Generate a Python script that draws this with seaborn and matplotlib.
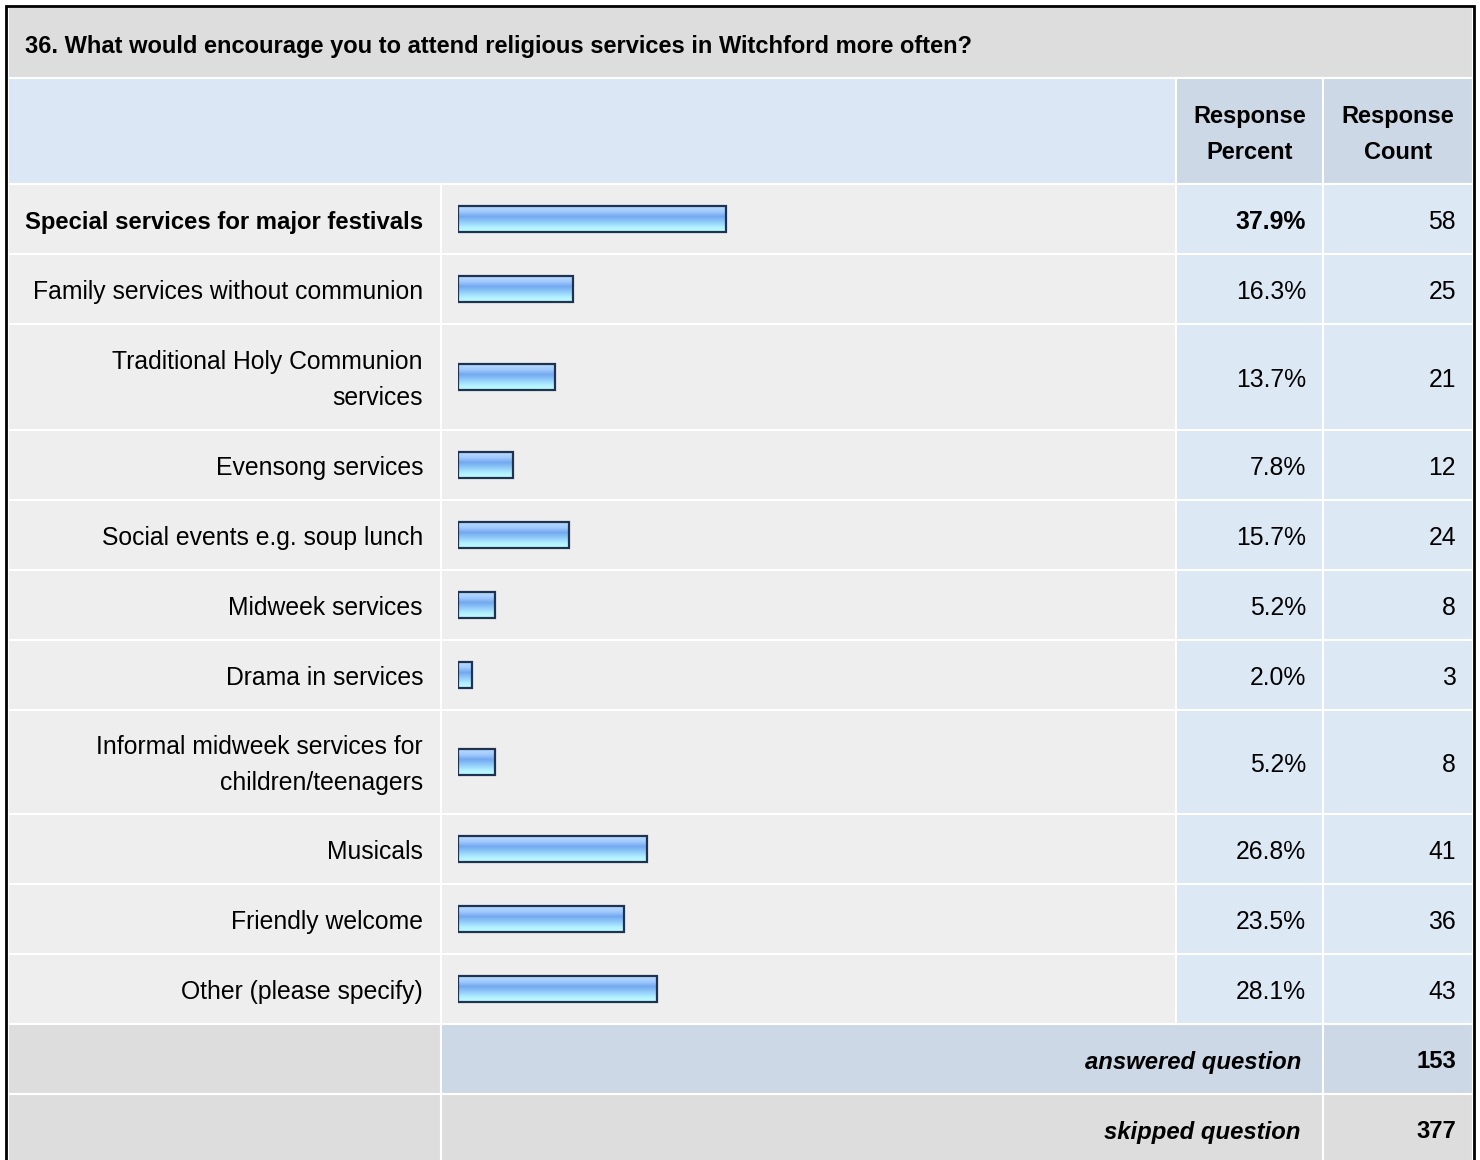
import numpy as np
import matplotlib
matplotlib.use("Agg")
import matplotlib.pyplot as plt
import seaborn as sns
from matplotlib.patches import Rectangle

# Survey data
title = "36. What would encourage you to attend religious services in Witchford more often?"
categories = [
    "Special services for major festivals",
    "Family services without communion",
    "Traditional Holy Communion\nservices",
    "Evensong services",
    "Social events e.g. soup lunch",
    "Midweek services",
    "Drama in services",
    "Informal midweek services for\nchildren/teenagers",
    "Musicals",
    "Friendly welcome",
    "Other (please specify)",
]
percents = [37.9, 16.3, 13.7, 7.8, 15.7, 5.2, 2.0, 5.2, 26.8, 23.5, 28.1]
counts = [58, 25, 21, 12, 24, 8, 3, 8, 41, 36, 43]
answered_count = 153
skipped_count = 377

W, H = 1480, 1160
sns.set_style("white")
plt.rcParams["font.family"] = ["Liberation Sans", "DejaVu Sans"]
plt.rcParams["text.color"] = "black"

fig = plt.figure(figsize=(W / 100, H / 100), dpi=100)
ax = fig.add_axes([0, 0, 1, 1])
ax.set_xlim(0, W)
ax.set_ylim(H, 0)
ax.axis("off")

# table geometry (pixels)
col_x = [8, 441, 1176, 1323, 1473]
row_edges = [184, 254, 324, 430, 500, 570, 640, 710, 814, 884, 954, 1024, 1094, 1164]
row_centers = [(a + b) / 2 for a, b in zip(row_edges[:-1], row_edges[1:])]

GREY = "#dddddd"
LIGHT = "#eeeeee"
BLUE_LIGHT = "#dde8f5"
BLUE_HEAD = "#ccd8e5"
FS = 17.8
DY = 3  # nudge text to sit on row centres like the reference


def cell(x0, x1, y0, y1, color):
    ax.add_patch(Rectangle((x0, y0), x1 - x0, y1 - y0, facecolor=color,
                           edgecolor="white", linewidth=1.5, zorder=1))


# title row
cell(col_x[0], col_x[4], 7, 78, GREY)
ax.text(25, 46, title, fontsize=17, fontweight="bold", ha="left", va="center", zorder=3)

# header row
cell(col_x[0], col_x[2], 78, 184, "#dce7f5")
cell(col_x[2], col_x[3], 78, 184, BLUE_HEAD)
cell(col_x[3], col_x[4], 78, 184, BLUE_HEAD)
ax.text(1250, 134.5, "Response\nPercent", fontsize=17, fontweight="bold",
        ha="center", va="center", linespacing=1.72, zorder=3)
ax.text(1398, 134.5, "Response\nCount", fontsize=17, fontweight="bold",
        ha="center", va="center", linespacing=1.72, zorder=3)

# data rows
best = int(np.argmax(percents))
for i, (cat, pct, cnt) in enumerate(zip(categories, percents, counts)):
    y0, y1 = row_edges[i], row_edges[i + 1]
    yc = row_centers[i] + DY
    cell(col_x[0], col_x[1], y0, y1, LIGHT)
    cell(col_x[1], col_x[2], y0, y1, LIGHT)
    cell(col_x[2], col_x[3], y0, y1, BLUE_LIGHT)
    cell(col_x[3], col_x[4], y0, y1, BLUE_LIGHT)
    weight = "bold" if i == best else "normal"
    ax.text(423, yc, cat, fontsize=17.2 if i == best else FS, fontweight=weight,
            ha="right", va="center", linespacing=1.67, zorder=3)
    ax.text(1306, yc, f"{pct:.1f}%", fontsize=FS, fontweight=weight, ha="right",
            va="center", zorder=3)
    ax.text(1456, yc, f"{cnt}", fontsize=FS, ha="right", va="center", zorder=3)

# answered / skipped rows
n = len(categories)
y0, y1 = row_edges[n], row_edges[n + 1]
cell(col_x[0], col_x[1], y0, y1, GREY)
cell(col_x[1], col_x[3], y0, y1, BLUE_HEAD)
cell(col_x[3], col_x[4], y0, y1, BLUE_HEAD)
ax.text(1301, row_centers[n] + DY, "answered question", fontsize=17.2, fontweight="bold",
        style="italic", ha="right", va="center", zorder=3)
ax.text(1456, row_centers[n] + DY, f"{answered_count}", fontsize=17.2, fontweight="bold",
        ha="right", va="center", zorder=3)

y0, y1 = row_edges[n + 1], row_edges[n + 2]
cell(col_x[0], col_x[1], y0, y1, GREY)
cell(col_x[1], col_x[3], y0, y1, GREY)
cell(col_x[3], col_x[4], y0, y1, GREY)
ax.text(1301, row_centers[n + 1] + DY, "skipped question", fontsize=17.2, fontweight="bold",
        style="italic", ha="right", va="center", zorder=3)
ax.text(1456, row_centers[n + 1] + DY, f"{skipped_count}", fontsize=17.2, fontweight="bold",
        ha="right", va="center", zorder=3)

# outer border
ax.plot([6, 6, 1474, 1474], [H + 5, 6, 6, H + 5], color="black", linewidth=2,
        solid_joinstyle="miter", zorder=4)

# bars: separate axes spanning the bar column, 0-100 %
bar_left, bar_right = 458, 1165
ax_bar = fig.add_axes([bar_left / W, 0, (bar_right - bar_left) / W, 1])
ax_bar.patch.set_alpha(0)
sns.barplot(x=percents, y=row_centers[:n], orient="h", native_scale=True,
            width=26 / 70, color="#7aaeee", ax=ax_bar, zorder=3)

grad_colors = np.array([
    [0.72, 0.86, 1.00],
    [0.64, 0.80, 0.99],
    [0.45, 0.66, 0.94],
    [0.56, 0.79, 0.98],
    [0.69, 0.93, 1.00],
    [0.75, 1.00, 1.00],
])
pos = np.linspace(0, 1, len(grad_colors))
t = np.linspace(0, 1, 64)
grad = np.stack([np.interp(t, pos, grad_colors[:, k]) for k in range(3)], axis=1)
grad = grad[:, None, :]

for p in ax_bar.patches:
    bx, by = p.get_x(), p.get_y()
    bw, bh = p.get_width(), p.get_height()
    im = ax_bar.imshow(grad, extent=[bx, bx + bw, by + bh, by], aspect="auto",
                       origin="upper", interpolation="bilinear", zorder=2)
    im.set_clip_path(p)
    p.set_facecolor("none")
    p.set_edgecolor("#1f3350")
    p.set_linewidth(1.6)

ax_bar.set_xlim(0, 100)
ax_bar.set_ylim(H, 0)
ax_bar.axis("off")

fig.savefig("out.png", dpi=100)
